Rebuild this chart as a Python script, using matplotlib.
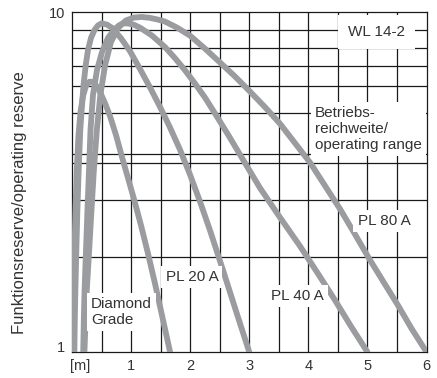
import numpy as np
import matplotlib
matplotlib.use("Agg")
import matplotlib.pyplot as plt
from matplotlib.ticker import FixedLocator, NullFormatter
from matplotlib.transforms import ScaledTranslation

plt.rcParams['font.family'] = ['Liberation Sans', 'DejaVu Sans']

# curves: distance [m] vs operating reserve
diamond_x = [0.02, 0.022, 0.03, 0.042, 0.059, 0.081, 0.11, 0.144, 0.186, 0.237, 0.296, 0.355, 0.423,
             0.491, 0.559, 0.643, 0.745, 0.846, 0.948, 1.049, 1.168, 1.286, 1.405, 1.524, 1.66]
diamond_y = [1.0, 1.24, 1.52, 1.99, 2.62, 3.43, 4.35, 5.08, 5.67, 6.07, 6.25, 6.23, 6.05,
             5.74, 5.40, 4.95, 4.35, 3.75, 3.25, 2.82, 2.36, 1.95, 1.59, 1.28, 1.0]

pl20_x = [0.04, 0.047, 0.057, 0.073, 0.091, 0.113, 0.14, 0.169, 0.195, 0.232, 0.271, 0.322, 0.381,
          0.44, 0.503, 0.592, 0.677, 0.829, 0.982, 1.151, 1.32, 1.489, 1.659, 1.828, 1.997, 2.167,
          2.336, 2.556, 2.776, 3.0]
pl20_y = [1.0, 1.24, 1.52, 1.99, 2.62, 3.43, 4.5, 5.33, 6.11, 6.99, 7.75, 8.41, 8.87,
          9.15, 9.28, 9.2, 9.0, 8.39, 7.68, 6.81, 6.01, 5.27, 4.58, 3.94, 3.33, 2.77,
          2.28, 1.74, 1.32, 1.0]

pl40_x = [0.19, 0.20, 0.213, 0.237, 0.262, 0.288, 0.313, 0.355, 0.423, 0.508, 0.609, 0.728, 0.796,
          0.863, 0.948, 1.049, 1.151, 1.354, 1.574, 1.743, 1.913, 2.082, 2.251, 2.454, 2.674, 2.928,
          3.182, 3.52, 3.859, 4.164, 4.452, 4.722, 5.0]
pl40_y = [1.0, 1.24, 1.52, 1.99, 2.62, 3.43, 4.5, 5.71, 6.76, 7.64, 8.41, 8.93, 9.15,
          9.28, 9.27, 9.19, 9.01, 8.54, 7.9, 7.33, 6.75, 6.17, 5.61, 4.93, 4.27, 3.6,
          3.04, 2.49, 2.05, 1.7, 1.42, 1.19, 1.0]

pl80_x = [0.21, 0.23, 0.25, 0.29, 0.33, 0.37, 0.42, 0.48, 0.56, 0.66, 0.78, 0.91, 1.05, 1.18,
          1.32, 1.45, 1.57, 1.78, 2.0, 2.25, 2.5, 2.76, 3.01, 3.27, 3.52, 3.77, 4.03, 4.28,
          4.54, 4.79, 5.04, 5.28, 5.52, 5.75, 6.0]
pl80_y = [1.0, 1.24, 1.52, 1.99, 2.62, 3.43, 4.5, 5.71, 6.99, 8.18, 8.99, 9.46, 9.65, 9.69,
          9.63, 9.52, 9.4, 9.01, 8.53, 7.82, 7.13, 6.47, 5.85, 5.25, 4.7, 4.13, 3.61, 3.09,
          2.63, 2.22, 1.87, 1.6, 1.37, 1.17, 1.0]

# grid positions as drawn on the chart
x_grid = [0.5, 1, 1.5, 2, 2.5, 3, 3.5, 4, 4.5, 5, 5.5]
y_grid = [8.87, 7.86, 6.93, 6.06, 5.04, 3.83, 3.61, 2.80, 1.91]
x_ticks = [0, 1, 2, 3, 4, 5, 6]
x_labels = ['[m]', '1', '2', '3', '4', '5', '6']

W, H = 437, 378
fig = plt.figure(figsize=(W / 100, H / 100), dpi=100)
ax = fig.add_axes([72 / W, 1 - 352 / H, (426.5 - 72) / W, (352 - 12.3) / H])

ax.set_yscale('log')
ax.set_xlim(0, 6)
ax.set_ylim(1, 10)

gridc = '#1a1a1a'
for gx in x_grid:
    ax.axvline(gx, color=gridc, lw=0.9, zorder=1)
for gy in y_grid:
    ax.axhline(gy, color=gridc, lw=0.9, zorder=1)
for s in ax.spines.values():
    s.set_color(gridc)
    s.set_linewidth(0.9)

curvec = '#9b9c9f'
for xs, ys in [(diamond_x, diamond_y), (pl20_x, pl20_y), (pl40_x, pl40_y), (pl80_x, pl80_y)]:
    ax.plot(xs, ys, color=curvec, lw=4.2, solid_capstyle='round', solid_joinstyle='round', zorder=3)

ax.yaxis.set_major_locator(FixedLocator([1, 10]))
ax.yaxis.set_minor_locator(FixedLocator([]))
ax.yaxis.set_minor_formatter(NullFormatter())
ax.set_yticklabels(['1', '10'])
ax.set_xticks(x_ticks)
ax.set_xticklabels(x_labels)
ax.tick_params(length=0, labelsize=10.5, labelcolor='#333333', pad=5)
# "[m]" sits a little right of the origin, "1" a little above the bottom line
lab0 = ax.get_xticklabels()[0]
lab0.set_transform(lab0.get_transform() + ScaledTranslation(6 / 72, 0, fig.dpi_scale_trans))
laby = ax.get_yticklabels()[0]
laby.set_transform(laby.get_transform() + ScaledTranslation(0, 4 / 72, fig.dpi_scale_trans))

txtc = '#333333'
box = dict(facecolor='white', edgecolor='none', pad=3)
ax.text(5.15, 8.75, 'WL 14-2', fontsize=11, color=txtc, ha='center', va='center',
        bbox=dict(facecolor='white', edgecolor='none', pad=7), zorder=5)
ax.text(4.11, 5.3, 'Betriebs-\nreichweite/\noperating range', fontsize=11, color=txtc,
        ha='left', va='top', linespacing=1.2, bbox=box, zorder=5)
ax.text(5.28, 2.43, 'PL 80 A', fontsize=11, color=txtc, ha='center', va='center', bbox=box, zorder=5)
ax.text(3.81, 1.46, 'PL 40 A', fontsize=11, color=txtc, ha='center', va='center', bbox=box, zorder=5)
ax.text(2.03, 1.66, 'PL 20 A', fontsize=11, color=txtc, ha='center', va='center', bbox=box, zorder=5)
ax.text(0.32, 1.31, 'Diamond\nGrade', fontsize=11, color=txtc, ha='left', va='center',
        linespacing=1.15, bbox=box, zorder=5)

fig.text(20 / W, 1 - 203 / H, 'Funktionsreserve/operating reserve', rotation=90,
         fontsize=12, color=txtc, ha='center', va='center')

fig.savefig('out.png', dpi=100)
